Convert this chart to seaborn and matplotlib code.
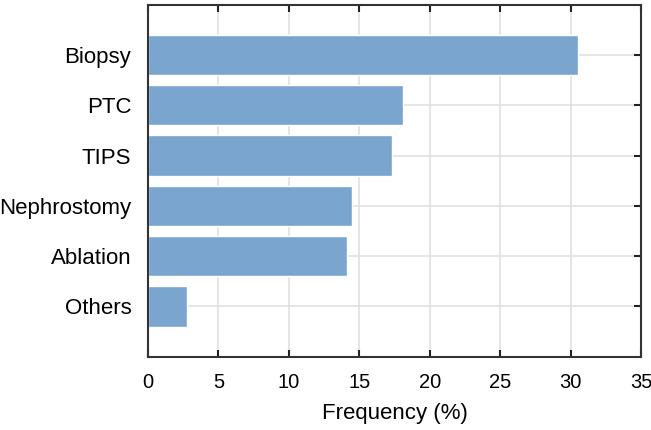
import pandas as pd
import matplotlib.pyplot as plt
import seaborn as sns

# Datos
procedimientos = ['Biopsy', 'PTC', 'TIPS', 'Nephrostomy', 'Ablation', 'Others']
frecuencia = [30.5, 18.1, 17.3, 14.5, 14.1, 2.8]
ticks_x = [0, 5, 10, 15, 20, 25, 30, 35]

df = pd.DataFrame({'procedimiento': procedimientos, 'frecuencia': frecuencia})

sns.set_style('white')
plt.rcParams['font.family'] = ['Liberation Sans', 'DejaVu Sans']
plt.rcParams['text.color'] = 'black'
plt.rcParams['axes.labelcolor'] = 'black'

fig = plt.figure(figsize=(6.51, 4.30), dpi=100)
ax = fig.add_axes([0.2273, 0.1705, 0.7573, 0.8185])

# Rejilla por debajo de las barras, marcas de los ejes por encima
for t in ticks_x:
    ax.axvline(t, color='#e0e0e0', linewidth=1.2, zorder=0)
for i in range(len(procedimientos)):
    ax.axhline(i, color='#e0e0e0', linewidth=1.2, zorder=0)

sns.barplot(x='frecuencia', y='procedimiento', data=df, orient='h',
            color='#79a5cf', saturation=1, width=0.8, ax=ax, zorder=1)

ax.set_xlim(0, 35)
ax.set_ylim(6, -1)
ax.set_xticks(ticks_x)
ax.grid(False)

for s in ax.spines.values():
    s.set_color('#333333')
    s.set_linewidth(1.5)

ax.tick_params(direction='in', bottom=True, left=True, top=True, right=True,
               length=5, width=1.5, color='#222222', labelcolor='black')
ax.tick_params(axis='x', pad=12, labelsize=14.5)
ax.tick_params(axis='y', pad=12, labelsize=16)

ax.set_xlabel('Frequency (%)', fontsize=16, labelpad=8, color='black')
ax.set_ylabel('')

fig.savefig('out.png', dpi=100)
